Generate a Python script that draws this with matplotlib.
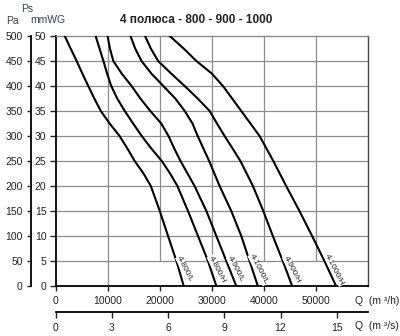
import numpy as np
import matplotlib
matplotlib.use("Agg")
import matplotlib.pyplot as plt

plt.rcParams['font.family'] = ['Liberation Sans', 'DejaVu Sans']

# fan curves, Q in m3/h, Ps in mmWG
q_800L = [1780, 2900, 4060, 5150, 6290, 7450, 8700, 10400, 12300, 13800, 15200, 16900, 18300, 20020, 21610, 23220, 24620]
p_800L = [50, 47.5, 45, 42.5, 40, 37.5, 35, 32.5, 30, 27.5, 25, 22.5, 20, 15, 10, 5, 0]

q_800H = [7700, 8450, 9200, 9900, 10700, 11850, 13300, 14900, 16550, 18400, 20400, 22000, 23400, 25440, 27360, 29280, 30880]
p_800H = [50, 47.5, 45, 42.5, 40, 37.5, 35, 32.5, 30, 27.5, 25, 22.5, 20, 15, 10, 5, 0]

q_900L = [10000, 10450, 11100, 12700, 14600, 16300, 18200, 20300, 21700, 22800, 24000, 26700, 28970, 30880, 32800, 34710]
p_900L = [50, 47.5, 45, 42.5, 40, 37.5, 35, 32.5, 30, 27.5, 25, 20, 15, 10, 5, 0]

q_1000L = [14400, 15300, 16510, 18400, 20700, 23000, 24810, 26300, 27300, 28400, 29500, 31510, 33750, 35670, 37260, 38850]
p_1000L = [50, 47.5, 45, 42.5, 40, 37.5, 35, 32.5, 30, 27.5, 25, 20, 15, 10, 5, 0]

q_900H = [17200, 18300, 19700, 22200, 24800, 27300, 29600, 31000, 32470, 34000, 35500, 37900, 39900, 41730, 43640, 45440]
p_900H = [50, 47.5, 45, 42.5, 40, 37.5, 35, 32.5, 30, 27.5, 25, 20, 15, 10, 5, 0]

q_1000H = [21930, 24600, 27050, 30000, 32150, 35670, 39180, 41720, 44290, 46840, 49270, 51630, 53870]
p_1000H = [50, 47.5, 45, 42.5, 40, 35, 30, 25.2, 20, 15, 10, 5, 0]

curves = [
    ("4-800/L", q_800L, p_800L),
    ("4-800/H", q_800H, p_800H),
    ("4-900/L", q_900L, p_900L),
    ("4-1000/L", q_1000L, p_1000L),
    ("4-900/H", q_900H, p_900H),
    ("4-1000/H", q_1000H, p_1000H),
]

mmwg_ticks = list(range(0, 51, 5))
pa_ticks = list(range(0, 501, 50))
qh_ticks = list(range(0, 50001, 10000))
qs_ticks = [0, 3, 6, 9, 12, 15]

W, H = 400, 336
L, R, T, B = 55.5, 368, 36, 286
txt_col = '#222222'
lab_col = '#34435e'

fig = plt.figure(figsize=(W / 100, H / 100), dpi=100)
ax = fig.add_axes([L / W, 1 - B / H, (R - L) / W, (B - T) / H])
ax.set_xlim(0, 60000)
ax.set_ylim(0, 50)

# grid
for p in range(5, 50, 5):
    ax.axhline(p, color='#8c8c8c', lw=0.9, zorder=1)
ax.vlines(10000, 0, 50, color='#8c8c8c', lw=0.9, zorder=1)
ax.vlines([20000, 30000, 40000, 50000], 5, 50, color='#8c8c8c', lw=0.9, zorder=1)

for name, q, p in curves:
    ax.plot(q, p, color='black', lw=1.5, zorder=3, solid_joinstyle='round')
    pl = 3.3
    ql = np.interp(pl, p[::-1], q[::-1]) + 1150
    ax.text(ql, pl, name, rotation=-63, ha='center', va='center', fontsize=6,
            color=txt_col, zorder=4,
            bbox=dict(facecolor='white', edgecolor='none', pad=0.2))

ax.spines['left'].set_linewidth(1.3)
ax.spines['bottom'].set_linewidth(1.3)
ax.spines['right'].set_color('#444444')
ax.spines['right'].set_linewidth(1.0)
ax.spines['top'].set_color('#8c8c8c')
ax.spines['top'].set_linewidth(1.0)

ax.set_yticks(mmwg_ticks)
ax.set_yticklabels([str(v) for v in mmwg_ticks])
ax.set_xticks(qh_ticks)
ax.set_xticklabels([str(v) for v in qh_ticks])
ax.tick_params(axis='y', direction='out', length=4.5, width=1, pad=2,
               labelsize=7.5, colors=txt_col)
ax.tick_params(axis='x', direction='out', length=3.5, width=1, pad=4,
               labelsize=7.5, colors=txt_col)

# Pa axis
axp = fig.add_axes([31 / W, 1 - B / H, 0.0005, (B - T) / H])
axp.set_ylim(0, 500)
for s in ['right', 'top', 'bottom']:
    axp.spines[s].set_visible(False)
axp.spines['left'].set_linewidth(1.3)
axp.set_xticks([])
axp.set_yticks(pa_ticks)
axp.set_yticklabels([str(v) for v in pa_ticks])
axp.tick_params(axis='y', direction='out', length=3, width=1, pad=3,
                labelsize=7.5, colors=txt_col)

# m3/s axis
axs = fig.add_axes([L / W, 1 - 312 / H, (R - L) / W, 0.0005])
axs.set_xlim(0, 60000 / 3600)
for s in ['left', 'right', 'top']:
    axs.spines[s].set_visible(False)
axs.spines['bottom'].set_linewidth(1.3)
axs.set_yticks([])
axs.set_xticks(qs_ticks)
axs.set_xticklabels([str(v) for v in qs_ticks])
axs.tick_params(axis='x', direction='out', length=4, width=1, pad=4,
                labelsize=7.5, colors=txt_col)

def ftext(x, y, s, **kw):
    fig.text(x / W, 1 - y / H, s, **kw)

ftext(27, 9, "Ps", ha='center', va='center', fontsize=7.5, color=lab_col)
ftext(12, 21, "Pa", ha='center', va='center', fontsize=7.5, color=lab_col)
ftext(48, 20, "mmWG", ha='center', va='center', fontsize=7.5, color=lab_col)
ftext(196, 20, "4 полюса - 800 - 900 - 1000", ha='center', va='center',
      fontsize=8.5, fontweight='bold', color=txt_col)
ftext(355, 301, "Q  (m ³/h)", ha='left', va='center', fontsize=7.5, color=txt_col)
ftext(355, 326, "Q  (m ³/s)", ha='left', va='center', fontsize=7.5, color=txt_col)

fig.savefig("out.png", dpi=100)
